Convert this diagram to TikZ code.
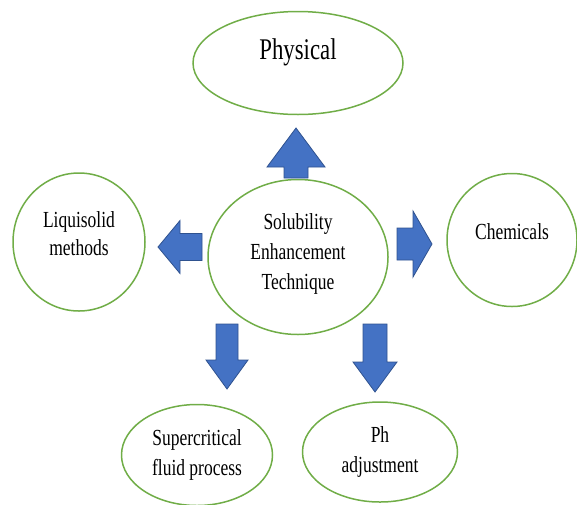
\documentclass[tikz,border=0pt]{standalone}
\usepackage{fontspec}
\setmainfont{Liberation Serif}
\newfontfamily\narrowserif[FakeStretch=0.76]{Liberation Serif}
\usetikzlibrary{shapes.geometric}
\definecolor{ringgreen}{HTML}{70AD47}
\definecolor{arrowblue}{HTML}{4472C4}
\definecolor{arrowedge}{HTML}{2F528F}

\begin{document}
\begin{tikzpicture}[x=1pt, y=-1pt, line width=1.5pt]
  \tikzstyle{bubble}=[draw=ringgreen, ellipse, fill=white, inner sep=0pt]
  \tikzstyle{bubbletext}=[align=center, inner sep=0pt,
    font=\narrowserif\fontsize{23}{30}\selectfont]
  \tikzset{pics/blockarrow/.style n args={4}{code={
    \draw[draw=arrowedge, fill=arrowblue, line width=0.8pt]
      (0,-#3) -- (#2,-#3) -- (#2,-#4) -- (#1,0) -- (#2,#4) -- (#2,#3) -- (0,#3) -- cycle;}}}

  \useasboundingbox (0,0) rectangle (577,504);

  % Top: physical
  \node[bubble, minimum width=210pt, minimum height=103pt] (phys) at (298,63) {};
  \node[bubbletext, font=\narrowserif\fontsize{30}{34}\selectfont] (phystxt)
    at ([yshift=11pt]phys.center) {Physical};

  % Center: the technique
  \node[bubble, minimum width=180pt, minimum height=155pt] (core) at (298,257) {};
  \node[bubbletext] (coretxt) at ([yshift=3pt]core.center)
    {Solubility\\Enhancement\\Technique};

  % Left and right
  \node[bubble, minimum width=132pt, minimum height=138pt] (liq) at (79,242) {};
  \node[bubbletext, font=\narrowserif\fontsize{23}{28}\selectfont] (liqtxt)
    at ([yshift=8pt]liq.center) {Liquisolid\\methods};
  \node[bubble, minimum width=130pt, minimum height=133pt] (chem) at (512,240) {};
  \node[bubbletext] (chemtxt) at ([yshift=8pt]chem.center) {Chemicals};

  % Bottom
  \node[bubble, minimum width=151pt, minimum height=101pt] (scf) at (197,455) {};
  \node[bubbletext] (scftxt) at (scf.center) {Supercritical\\fluid process};
  \node[bubble, minimum width=155pt, minimum height=100pt] (ph) at (380,452) {};
  \node[bubbletext] (phtxt) at (ph.center) {Ph\\adjustment};

  % block arrows
  \pic[rotate=90]  at (296,178) {blockarrow={50}{11}{12}{29}};
  \pic[rotate=180] at (202,247) {blockarrow={44}{22}{13.5}{26.5}};
  \pic             at (397,244) {blockarrow={35}{16}{16}{33}};
  \pic[rotate=-90] at (227,324) {blockarrow={65}{36}{11}{21}};
  \pic[rotate=-90] at (375,324) {blockarrow={68}{38}{12}{22}};
\end{tikzpicture}
\end{document}
